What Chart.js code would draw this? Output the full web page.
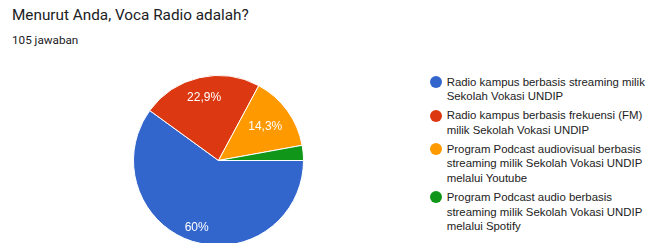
<!DOCTYPE html>
<html>
<head>
<meta charset="utf-8">
<script src="https://cdn.jsdelivr.net/npm/chart.js@4/dist/chart.umd.min.js"></script>
<style>
  html, body { margin: 0; padding: 0; width: 646px; height: 243px; overflow: hidden; background: #fff; font-family: Roboto, Arial, sans-serif; }
  #title { position: absolute; left: 12px; top: 6px; font-size: 15.3px; color: #202124; white-space: nowrap; }
  #sub { position: absolute; left: 12px; top: 33px; font-size: 11.7px; color: #202124; white-space: nowrap; }
  #c { position: absolute; left: 133px; top: 75px; }
  #legend { position: absolute; left: 430px; top: 74.8px; margin: 0; padding: 0; list-style: none; font-family: "Liberation Sans", Arial, sans-serif; }
  #legend li { position: relative; padding-left: 16.7px; font-size: 11.4px; line-height: 14.5px; color: #222; margin-bottom: 4.6px; white-space: nowrap; }
  #legend li span.dot { position: absolute; left: 0; top: 1.2px; width: 12px; height: 12px; border-radius: 50%; }
</style>
</head>
<body>
<div id="title">Menurut Anda, Voca Radio adalah?</div>
<div id="sub">105 jawaban</div>
<canvas id="c" width="171" height="171"></canvas>
<ul id="legend"></ul>
<script>
const categories = [
  ["Radio kampus berbasis streaming milik", "Sekolah Vokasi UNDIP"],
  ["Radio kampus berbasis frekuensi (FM)", "milik Sekolah Vokasi UNDIP"],
  ["Program Podcast audiovisual berbasis", "streaming milik Sekolah Vokasi UNDIP", "melalui Youtube"],
  ["Program Podcast audio berbasis", "streaming milik Sekolah Vokasi UNDIP", "melalui Spotify"]
];
const counts = [63, 24, 15, 3];
const percentLabels = ["60%", "22,9%", "14,3%", ""];
const colors = ["#3366cc", "#dc3912", "#ff9900", "#109618"];

// radial placement of the in-slice labels (fraction of radius)
const labelRadius = [0.83, 0.76, 0.68, 0.7];

const sliceLabels = {
  id: 'sliceLabels',
  afterDatasetsDraw(chart) {
    const ctx = chart.ctx;
    const meta = chart.getDatasetMeta(0);
    ctx.save();
    ctx.fillStyle = '#ffffff';
    ctx.font = '12px "Liberation Sans", Arial, sans-serif';
    ctx.textAlign = 'center';
    ctx.textBaseline = 'middle';
    meta.data.forEach((arc, i) => {
      const t = percentLabels[i];
      if (!t) return;
      const mid = (arc.startAngle + arc.endAngle) / 2;
      const r = arc.outerRadius * labelRadius[i];
      ctx.fillText(t, arc.x + Math.cos(mid) * r, arc.y + Math.sin(mid) * r);
    });
    ctx.restore();
  }
};

const chart = new Chart(document.getElementById('c'), {
  type: 'pie',
  data: {
    labels: categories,
    datasets: [{
      data: counts,
      backgroundColor: colors,
      borderColor: '#ffffff',
      borderWidth: 1
    }]
  },
  options: {
    responsive: false,
    animation: false,
    rotation: 90,
    layout: { padding: 0 },
    plugins: { legend: { display: false }, tooltip: { enabled: false } }
  },
  plugins: [sliceLabels]
});

const ul = document.getElementById('legend');
categories.forEach((lines, i) => {
  const li = document.createElement('li');
  const dot = document.createElement('span');
  dot.className = 'dot';
  dot.style.background = colors[i];
  li.appendChild(dot);
  lines.forEach((ln, j) => {
    if (j) li.appendChild(document.createElement('br'));
    li.appendChild(document.createTextNode(ln));
  });
  ul.appendChild(li);
});
</script>
</body>
</html>
